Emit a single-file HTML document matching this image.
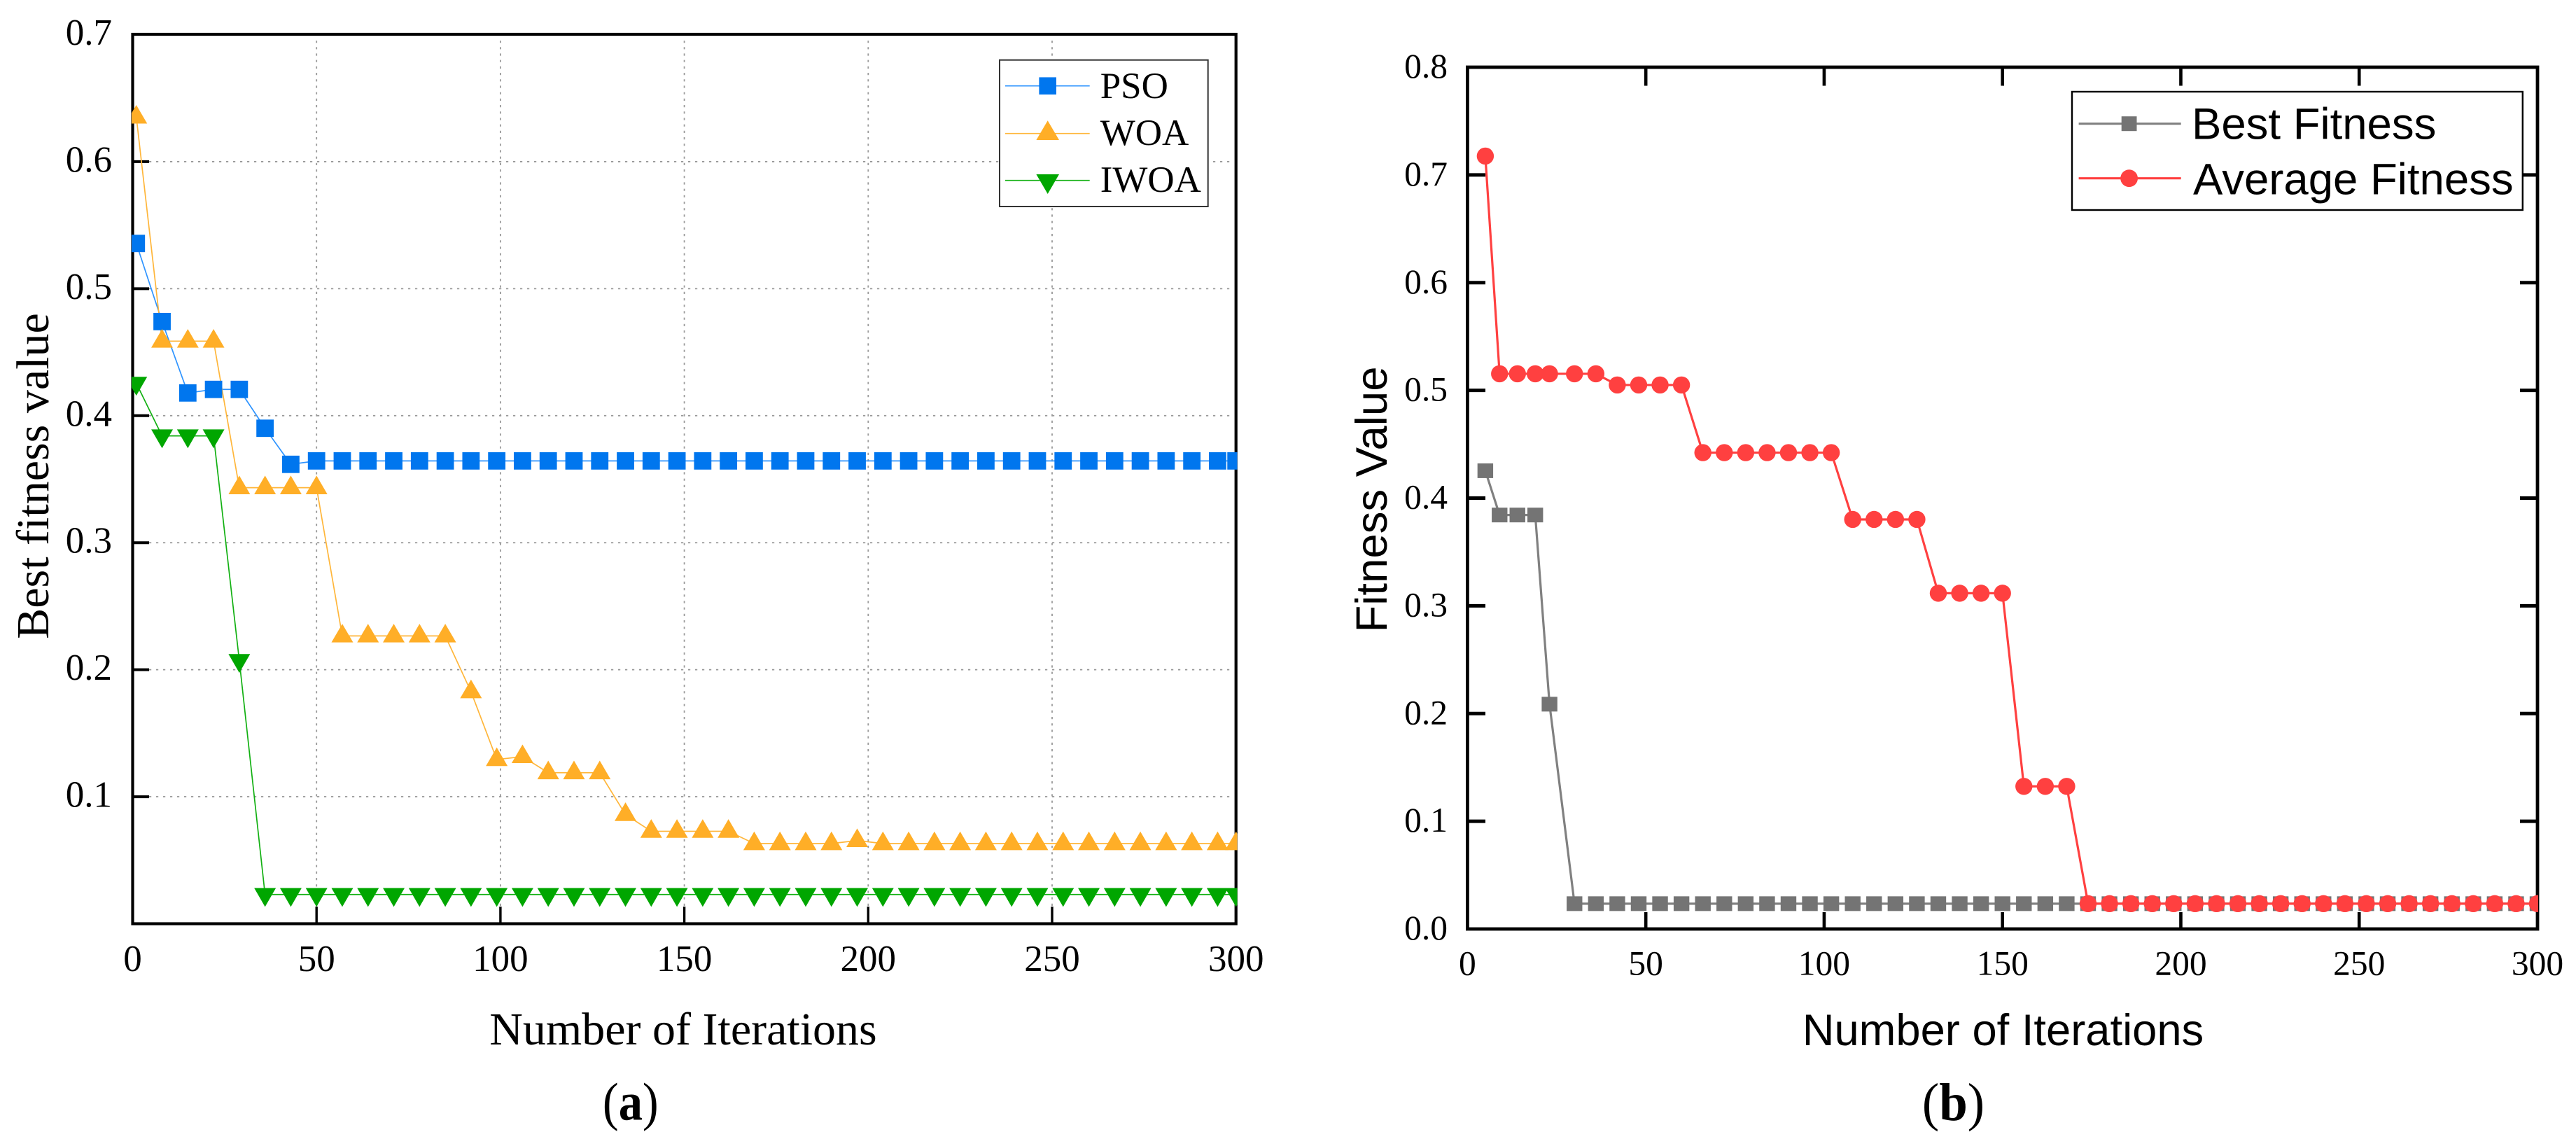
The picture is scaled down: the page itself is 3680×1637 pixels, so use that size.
<!DOCTYPE html>
<html lang="en">
<head>
<meta charset="utf-8">
<title>Fitness convergence charts</title>
<style>
html,body{margin:0;padding:0;background:#fff;width:3680px;height:1637px;overflow:hidden}
svg{display:block;position:absolute;left:0;top:0}
.serif{font-family:"Liberation Serif",serif;fill:#000}
.sans{font-family:"Liberation Sans",sans-serif;fill:#000}
</style>
</head>
<body>
<svg id="figure" xmlns="http://www.w3.org/2000/svg" width="3680" height="1637" viewBox="0 0 3680 1637">
  <rect x="0" y="0" width="3680" height="1637" fill="#ffffff"/>
  <defs>
    <clipPath id="clipA"><rect x="188" y="40" width="1579.5" height="1282"/></clipPath>
    <clipPath id="clipB"><rect x="2094" y="90" width="1532" height="1240"/></clipPath>
  </defs>

  <g id="chartA">
    <g id="gridA"></g>
    <g id="axesA"></g>
    <g id="seriesA" clip-path="url(#clipA)"></g>
    <text class="serif" x="976" y="1492" font-size="66" text-anchor="middle">Number of Iterations</text>
    <text class="serif" transform="translate(69 680) rotate(-90)" font-size="66" text-anchor="middle">Best fitness value</text>
    <g>
      <rect x="1428" y="85.7" width="297.7" height="209.3" fill="#fff" stroke="#333" stroke-width="2"/>
      <g>
        <line x1="1436" x2="1556.7" y1="122.7" y2="122.7" stroke="#2F94FF" stroke-width="1.7"/>
        <rect x="1484.4" y="110.4" width="24.6" height="24.6" fill="#0076EE"/>
        <text class="serif" x="1571.7" y="140" font-size="53">PSO</text>
      </g>
      <g>
        <line x1="1436" x2="1556.7" y1="190.7" y2="190.7" stroke="#FFB63A" stroke-width="1.7"/>
        <polygon points="1496.7,172.3 1513,200 1480.4,200" fill="#FFAE27"/>
        <text class="serif" x="1571.7" y="207" font-size="53">WOA</text>
      </g>
      <g>
        <line x1="1436" x2="1556.7" y1="257.7" y2="257.7" stroke="#12B012" stroke-width="1.7"/>
        <polygon points="1480.4,249 1513,249 1496.7,277" fill="#00A600"/>
        <text class="serif" x="1571.7" y="274" font-size="53">IWOA</text>
      </g>
    </g>
    <text class="serif" transform="translate(900.8 1599.5) scale(0.9 1)" font-size="76" text-anchor="middle">(<tspan font-weight="bold">a</tspan>)</text>
  </g>

  <g id="chartB">
    <g id="axesB"></g>
    <g id="seriesB" clip-path="url(#clipB)"></g>
    <text class="sans" x="2861.5" y="1493" font-size="63.3" text-anchor="middle">Number of Iterations</text>
    <text class="sans" transform="translate(1981 713.5) rotate(-90)" font-size="63.5" text-anchor="middle">Fitness Value</text>
    <g>
      <rect x="2960" y="131" width="643.8" height="169" fill="#fff" stroke="#000" stroke-width="2.4"/>
      <g>
        <line x1="2969.6" x2="3115.7" y1="176.7" y2="176.7" stroke="#808080" stroke-width="3.2"/>
        <rect x="3030.7" y="166.2" width="21.8" height="21" fill="#747474"/>
        <text class="sans" x="3131" y="198.3" font-size="63.5">Best Fitness</text>
      </g>
      <g>
        <line x1="2969.6" x2="3115.7" y1="254.7" y2="254.7" stroke="#FF4040" stroke-width="3.2"/>
        <circle cx="3041.6" cy="254.7" r="12.4" fill="#FF4040"/>
        <text class="sans" x="3133" y="277.3" font-size="63.5">Average Fitness</text>
      </g>
    </g>
    <text class="serif" transform="translate(2790.5 1600) scale(0.96 1)" font-size="76" text-anchor="middle">(<tspan font-weight="bold">b</tspan>)</text>
  </g>
</svg>

<script>
// ---------- chart (a) data ----------
const aXTicks = [0, 50, 100, 150, 200, 250, 300];
const aYTicks = [0.1, 0.2, 0.3, 0.4, 0.5, 0.6, 0.7];
const aXTickLabels = ["0", "50", "100", "150", "200", "250", "300"];
const aYTickLabels = ["0.1", "0.2", "0.3", "0.4", "0.5", "0.6", "0.7"];
const aIterations = [1,8,15,22,29,36,43,50,57,64,71,78,85,92,99,106,113,120,127,134,141,148,155,162,169,176,183,190,197,204,211,218,225,232,239,246,253,260,267,274,281,288,295,300];
const psoValues = [0.5356,0.4741,0.4179,0.4207,0.4207,0.3901,0.3617,
  0.3644,0.3644,0.3644,0.3644,0.3644,0.3644,0.3644,0.3644,0.3644,0.3644,0.3644,0.3644,
  0.3644,0.3644,0.3644,0.3644,0.3644,0.3644,0.3644,0.3644,0.3644,0.3644,0.3644,0.3644,
  0.3644,0.3644,0.3644,0.3644,0.3644,0.3644,0.3644,0.3644,0.3644,0.3644,0.3644,0.3644,0.3644];
const woaValues = [0.6351,0.4587,0.4587,0.4587,0.3433,0.3433,0.3433,0.3433,
  0.2266,0.2266,0.2266,0.2266,0.2266,0.1827,0.1293,0.1316,0.1189,0.1189,0.1189,0.0860,
  0.0728,0.0728,0.0728,0.0728,0.0631,0.0631,0.0631,0.0631,0.0655,
  0.0631,0.0631,0.0631,0.0631,0.0631,0.0631,0.0631,0.0631,0.0631,0.0631,0.0631,0.0631,0.0631,0.0631,0.0631];
const iwoaValues = [0.4255,0.3841,0.3841,0.3841,0.2072,
  0.0230,0.0230,0.0230,0.0230,0.0230,0.0230,0.0230,0.0230,0.0230,0.0230,0.0230,0.0230,0.0230,
  0.0230,0.0230,0.0230,0.0230,0.0230,0.0230,0.0230,0.0230,0.0230,0.0230,0.0230,0.0230,
  0.0230,0.0230,0.0230,0.0230,0.0230,0.0230,0.0230,0.0230,0.0230,0.0230,0.0230,0.0230,0.0230,0.0230];

// ---------- chart (b) data ----------
const bXTicks = [0, 50, 100, 150, 200, 250, 300];
const bYTicks = [0, 0.1, 0.2, 0.3, 0.4, 0.5, 0.6, 0.7, 0.8];
const bXTickLabels = ["0", "50", "100", "150", "200", "250", "300"];
const bYTickLabels = ["0.0", "0.1", "0.2", "0.3", "0.4", "0.5", "0.6", "0.7", "0.8"];
const bIterations = [5,9,14,19,23,30,36,42,48,54,60,66,72,78,84,90,96,102,108,114,120,126,132,138,144,150,156,162,168,174,180,186,192,198,204,210,216,222,228,234,240,246,252,258,264,270,276,282,288,294,300];
const bestFitness = [0.4254,0.3843,0.3843,0.3843,0.2087,
  0.0235,0.0235,0.0235,0.0235,0.0235,0.0235,0.0235,0.0235,0.0235,0.0235,0.0235,
  0.0235,0.0235,0.0235,0.0235,0.0235,0.0235,0.0235,0.0235,0.0235,0.0235,0.0235,
  0.0235,0.0235,0.0235,0.0235,0.0235,0.0235,0.0235,0.0235,0.0235,0.0235,0.0235,
  0.0235,0.0235,0.0235,0.0235,0.0235,0.0235,0.0235,0.0235,0.0235,0.0235,0.0235,0.0235,0.0235];
const averageFitness = [0.7175,0.5154,0.5154,0.5154,0.5154,0.5154,0.5154,
  0.5050,0.5050,0.5050,0.5050,
  0.4422,0.4422,0.4422,0.4422,0.4422,0.4422,0.4422,
  0.3802,0.3802,0.3802,0.3802,
  0.3117,0.3117,0.3117,0.3117,
  0.1324,0.1324,0.1324,
  0.0235,0.0235,0.0235,0.0235,0.0235,0.0235,0.0235,0.0235,0.0235,0.0235,0.0235,
  0.0235,0.0235,0.0235,0.0235,0.0235,0.0235,0.0235,0.0235,0.0235,0.0235,0.0235,0.0235];

// ---------- drawing helpers ----------
const NS = "http://www.w3.org/2000/svg";
function shape(parent, tag, geom) {
  const el = document.createElementNS(NS, tag);
  for (const k in geom) el.setAttribute(k, geom[k]);
  parent.appendChild(el);
  return el;
}
function linear(d0, d1, r0, r1) {
  return function (v) { return r0 + (v - d0) * (r1 - r0) / (d1 - d0); };
}
function linePath(xs, ys, xScale, yScale) {
  return xs.map(function (x, i) {
    return (i ? "L" : "M") + xScale(x).toFixed(2) + " " + yScale(ys[i]).toFixed(2);
  }).join(" ");
}

// ---------- chart (a) ----------
const ax = linear(0, 300, 189.5, 1765.7);
const ay = linear(0, 0.7, 1319.5, 49.5);
const gridA = document.getElementById("gridA");
const axesA = document.getElementById("axesA");
const seriesA = document.getElementById("seriesA");

aXTicks.forEach(function (t, i) {
  if (t > 0 && t < 300) {
    const g = shape(gridA, "line", {x1: ax(t), x2: ax(t), y1: 58, y2: 1295, stroke: "#999", "stroke-width": 1.8, "stroke-dasharray": "3.2 6"});
    
    
    const tick = shape(axesA, "line", {x1: ax(t), x2: ax(t), y1: 1295, y2: 1319, stroke: "#000", "stroke-width": 3.4});
    
    
  }
  const lab = shape(axesA, "text", {x: ax(t), y: 1387, "font-size": 53, "text-anchor": "middle", "class": "serif"});
  lab.textContent = aXTickLabels[i];
  
  
});
aYTicks.forEach(function (t, i) {
  if (t < 0.65) {
    const g = shape(gridA, "line", {x1: 213, x2: 1763, y1: ay(t), y2: ay(t), stroke: "#999", "stroke-width": 1.8, "stroke-dasharray": "3.2 6.8"});
    
    
    const tick = shape(axesA, "line", {x1: 189.5, x2: 213, y1: ay(t), y2: ay(t), stroke: "#000", "stroke-width": 4});
    
    
  }
  const lab = shape(axesA, "text", {x: 160, y: ay(t) + 14.5, "font-size": 53, "text-anchor": "end", "class": "serif"});
  lab.textContent = aYTickLabels[i];
  
  
});
const frameA = shape(axesA, "rect", {x: 189.5, y: 49, width: 1576.2, height: 1270.5, fill: "none", stroke: "#000", "stroke-width": 4.2});



const psoLine = shape(seriesA, "path", {d: linePath(aIterations, psoValues, ax, ay), fill: "none", stroke: "#2F94FF", "stroke-width": 1.7});


const woaLine = shape(seriesA, "path", {d: linePath(aIterations, woaValues, ax, ay), fill: "none", stroke: "#FFB63A", "stroke-width": 1.7});


const iwoaLine = shape(seriesA, "path", {d: linePath(aIterations, iwoaValues, ax, ay), fill: "none", stroke: "#12B012", "stroke-width": 1.7});



aIterations.forEach(function (x, i) {
  const px = ax(x), py = ay(psoValues[i]);
  const m = shape(seriesA, "rect", {x: px - 12.4, y: py - 12.4, width: 24.8, height: 24.8, fill: "#0076EE"});
  
  
});
aIterations.forEach(function (x, i) {
  const px = ax(x), py = ay(woaValues[i]);
  const pts = [px, py - 17.3, px + 15.5, py + 9.3, px - 15.5, py + 9.3].join(" ");
  const m = shape(seriesA, "polygon", {points: pts, fill: "#FFAE27"});
  
  
});
aIterations.forEach(function (x, i) {
  const px = ax(x), py = ay(iwoaValues[i]);
  const pts = [px - 15.5, py - 9.3, px + 15.5, py - 9.3, px, py + 17.6].join(" ");
  const m = shape(seriesA, "polygon", {points: pts, fill: "#00A600"});
  
  
});

// ---------- chart (b) ----------
const bx = linear(0, 300, 2096.4, 3625);
const by = linear(0, 0.8, 1327, 96);
const axesB = document.getElementById("axesB");
const seriesB = document.getElementById("seriesB");

bXTicks.forEach(function (t, i) {
  if (t > 0 && t < 300) {
    const bottomTick = shape(axesB, "line", {x1: bx(t), x2: bx(t), y1: 1303, y2: 1327, stroke: "#000", "stroke-width": 4.6});
    
    
    const topTick = shape(axesB, "line", {x1: bx(t), x2: bx(t), y1: 96, y2: 122.5, stroke: "#000", "stroke-width": 4.6});
    
    
  }
  const lab = shape(axesB, "text", {x: bx(t), y: 1392.7, "font-size": 49.5, "text-anchor": "middle", "class": "serif"});
  lab.textContent = bXTickLabels[i];
  
  
});
bYTicks.forEach(function (t, i) {
  if (t > 0.05 && t < 0.75) {
    const leftTick = shape(axesB, "line", {x1: 2096.4, x2: 2122, y1: by(t), y2: by(t), stroke: "#000", "stroke-width": 5});
    
    
    const rightTick = shape(axesB, "line", {x1: 3600, x2: 3625, y1: by(t), y2: by(t), stroke: "#000", "stroke-width": 5});
    
    
  }
  const lab = shape(axesB, "text", {x: 2068, y: by(t) + 15, "font-size": 49.5, "text-anchor": "end", "class": "serif"});
  lab.textContent = bYTickLabels[i];
  
  
});
const frameB = shape(axesB, "rect", {x: 2096.4, y: 96, width: 1528.6, height: 1231, fill: "none", stroke: "#000", "stroke-width": 4.8});



const bestLine = shape(seriesB, "path", {d: linePath(bIterations, bestFitness, bx, by), fill: "none", stroke: "#808080", "stroke-width": 3.2});


bIterations.forEach(function (x, i) {
  const px = bx(x), py = by(bestFitness[i]);
  const m = shape(seriesB, "rect", {x: px - 11.2, y: py - 10.5, width: 22.4, height: 21, fill: "#747474"});
  
  
});
const avgLine = shape(seriesB, "path", {d: linePath(bIterations, averageFitness, bx, by), fill: "none", stroke: "#FF4040", "stroke-width": 3.2});


bIterations.forEach(function (x, i) {
  const m = shape(seriesB, "circle", {cx: bx(x), cy: by(averageFitness[i]), r: 12.2, fill: "#FF4040"});
  
  
});
</script>
</body>
</html>
